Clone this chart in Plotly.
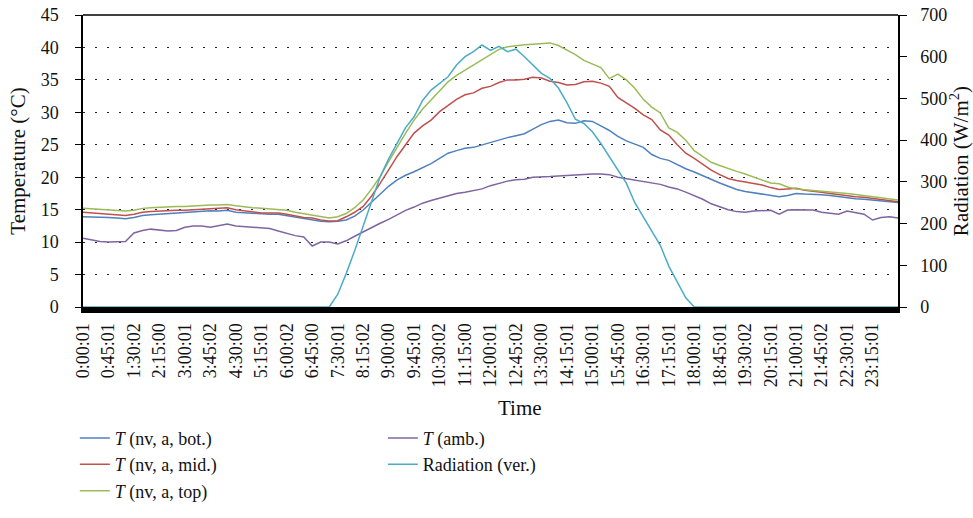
import plotly.graph_objects as go

# ---------------- data ----------------
tick_labels = ["0:00:01", "0:45:01", "1:30:02", "2:15:00", "3:00:01", "3:45:02", "4:30:00",
               "5:15:01", "6:00:02", "6:45:00", "7:30:01", "8:15:02", "9:00:00", "9:45:01",
               "10:30:02", "11:15:00", "12:00:01", "12:45:02", "13:30:00", "14:15:01",
               "15:00:01", "15:45:00", "16:30:01", "17:15:01", "18:00:01", "18:45:01",
               "19:30:02", "20:15:01", "21:00:01", "21:45:02", "22:30:01", "23:15:01"]

# sample times in hours (every 15 minutes)
time_h = [i * 0.25 for i in range(97)]

t_bot = [13.9, 13.9, 13.8, 13.8, 13.7, 13.6, 13.8, 14.1, 14.2, 14.3, 14.4, 14.5, 14.5, 14.6, 14.7, 14.85,
         14.8, 14.9, 14.6, 14.5, 14.4, 14.3, 14.3, 14.3, 14.1, 13.8, 13.6, 13.4, 13.2, 13.15, 13.2, 13.4,
         14.0, 14.95, 16.2, 17.5, 18.6, 19.6, 20.3, 20.85, 21.5, 22.1, 22.9, 23.7, 24.1, 24.45, 24.6, 25.0,
         25.4, 25.8, 26.1, 26.4, 26.7, 27.4, 28.1, 28.6, 28.8, 28.4, 28.3, 28.7, 28.6, 27.9, 27.2, 26.3,
         25.6, 25.1, 24.6, 23.5, 22.9, 22.6, 21.9, 21.3, 20.8, 20.2, 19.6, 19.1, 18.6, 18.1, 17.8, 17.6,
         17.5, 17.2, 17.0, 17.2, 17.5, 17.4, 17.4, 17.3, 17.2, 17.0, 16.9, 16.7, 16.6, 16.5, 16.3, 16.2,
         16.1]

t_mid = [14.6, 14.5, 14.4, 14.4, 14.2, 14.1, 14.3, 14.6, 14.7, 14.8, 14.8, 14.9, 14.9, 15.0, 15.1, 15.2,
         15.2, 15.3, 15.0, 14.8, 14.6, 14.5, 14.5, 14.5, 14.3, 14.0, 13.8, 13.7, 13.4, 13.25, 13.3, 13.9,
         14.6, 15.5, 17.1, 19.05, 21.1, 23.2, 25.0, 26.8, 27.9, 28.8, 30.1, 31.1, 32.0, 32.7, 33.0, 33.7,
         34.0, 34.6, 35.0, 35.0, 35.1, 35.4, 35.3, 34.8, 34.6, 34.2, 34.3, 34.7, 34.8, 34.5, 34.0, 32.3,
         31.5, 30.6, 29.6, 28.9, 27.3, 26.5, 25.0, 23.7, 22.9, 22.0, 21.1, 20.4, 19.8, 19.5, 19.3, 19.0,
         18.8, 18.4, 18.1, 18.2, 18.3, 18.0, 17.9, 17.7, 17.5, 17.3, 17.2, 17.0, 16.9, 16.7, 16.5, 16.3,
         16.2]

t_top = [15.2, 15.1, 15.0, 14.9, 14.8, 14.8, 14.9, 15.2, 15.3, 15.4, 15.45, 15.5, 15.5, 15.6, 15.6, 15.7,
         15.7, 15.8, 15.6, 15.4, 15.3, 15.2, 15.1, 15.05, 14.9, 14.6, 14.4, 14.2, 13.9, 13.7, 13.9, 14.4,
         15.3, 16.5, 18.2, 20.1, 22.4, 24.7, 26.8, 28.8, 30.5, 31.9, 33.3, 34.7, 35.7, 36.5, 37.4, 38.2,
         39.0, 39.7, 40.1, 40.3, 40.4, 40.5, 40.6, 40.7, 40.3, 39.6, 38.9, 38.0, 37.5, 36.9, 35.2, 35.9,
         35.0, 33.7, 32.0, 30.8, 29.9, 27.6, 26.9, 25.7, 24.1, 23.2, 22.3, 21.8, 21.3, 20.9, 20.5, 20.0,
         19.5, 19.1, 19.0, 18.5, 18.2, 18.1, 18.0, 17.9, 17.8, 17.6, 17.5, 17.35, 17.2, 17.0, 16.9, 16.7,
         16.5]

t_amb = [10.6, 10.3, 10.1, 10.0, 10.05, 10.1, 11.4, 11.8, 12.0, 11.8, 11.7, 11.8, 12.3, 12.5, 12.5, 12.3,
         12.5, 12.8, 12.5, 12.4, 12.3, 12.2, 12.1, 11.7, 11.3, 11.0, 10.8, 9.4, 10.0, 10.0, 9.7, 10.2,
         10.9, 11.6, 12.2, 12.9, 13.5, 14.2, 14.9, 15.4, 16.0, 16.4, 16.75, 17.2, 17.5, 17.7, 17.9, 18.2,
         18.7, 19.1, 19.4, 19.6, 19.7, 20.0, 20.0, 20.1, 20.2, 20.3, 20.4, 20.5, 20.5, 20.5, 20.4, 20.0,
         19.8, 19.6, 19.3, 19.1, 18.9, 18.5, 18.2, 17.7, 17.2, 16.6, 15.9, 15.4, 15.0, 14.7, 14.6, 14.8,
         14.85, 14.9, 14.3, 14.95, 15.0, 15.0, 14.95, 14.6, 14.4, 14.3, 14.8, 14.6, 14.3, 13.4, 13.8, 13.9,
         13.7]

radiation = [0, 0, 0, 0, 0, 0, 0, 0, 0, 0, 0, 0, 0, 0, 0, 0,
             0, 0, 0, 0, 0, 0, 0, 0, 0, 0, 0, 0, 0, 0, 30, 80,
             135, 193, 250, 312, 355, 392, 430, 456, 495, 520, 535, 552, 580, 600, 612, 628,
             615, 625, 612, 618, 600, 580, 560, 548, 525, 490, 450, 440, 420, 392, 360, 330,
             297, 250, 215, 182, 148, 98, 60, 22, 0, 0, 0, 0, 0, 0, 0, 0,
             0, 0, 0, 0, 0, 0, 0, 0, 0, 0, 0, 0, 0, 0, 0, 0,
             0]


def label_to_hours(s):
    h, m, sec = (int(p) for p in s.split(":"))
    return h + m / 60 + sec / 3600


tick_vals = [label_to_hours(s) for s in tick_labels]

FONT = "Liberation Serif"
FS = 18
FT = 21

fig = go.Figure()

series = [
    ("<i>T</i> (nv, a, bot.)", t_bot, "#4F81BD", 1, "y"),
    ("<i>T</i> (nv, a, mid.)", t_mid, "#C0504D", 3, "y"),
    ("<i>T</i> (nv, a, top)", t_top, "#9BBB59", 5, "y"),
    ("<i>T</i> (amb.)", t_amb, "#8064A2", 2, "y"),
    ("Radiation (ver.)", radiation, "#4BACC6", 4, "y2"),
]
for name, vals, col, rank, ax in series:
    fig.add_trace(go.Scatter(x=time_h, y=vals, name=name, mode="lines",
                             line=dict(color=col, width=1.5), yaxis=ax, legendrank=rank))

fig.update_layout(
    width=973, height=518,
    margin=dict(l=83, r=75, t=15, b=211, autoexpand=False),
    paper_bgcolor="white", plot_bgcolor="white",
    font=dict(family=FONT, size=FS, color="#111"),
    showlegend=True,
    legend=dict(orientation="h", x=-0.01, xanchor="left", y=-0.386, yanchor="top",
                entrywidth=263, entrywidthmode="pixels", font=dict(family=FONT, size=FS),
                bgcolor="rgba(0,0,0,0)", tracegroupgap=0),
    xaxis=dict(range=[0, 24], tickmode="array", tickvals=tick_vals, ticktext=tick_labels,
               tickangle=-90, showgrid=False, zeroline=False, showline=True, linecolor="black",
               linewidth=6, ticks="", ticklabelstandoff=3, automargin=False,
               tickfont=dict(family=FONT, size=FS)),
    yaxis=dict(range=[0, 45], dtick=5, showgrid=True, gridcolor="#222", griddash="1.5px,10.5px",
               gridwidth=1, zeroline=False, showline=True, linecolor="black", linewidth=1.5,
               ticks="outside", ticklen=6, tickcolor="black", ticklabelstandoff=13,
               automargin=False,
               title=dict(text="Temperature (°C)", standoff=9, font=dict(family=FONT, size=FT))),
    yaxis2=dict(range=[0, 700], dtick=100, overlaying="y", side="right", showgrid=False,
                zeroline=False, showline=True, linecolor="black", linewidth=1.5,
                ticks="outside", ticklen=7, tickcolor="black", ticklabelstandoff=10,
                automargin=False,
                title=dict(text="Radiation (W/m<sup>2</sup>)", standoff=7,
                           font=dict(family=FONT, size=FT))),
    shapes=[dict(type="line", xref="paper", yref="paper", x0=0, x1=1, y0=1, y1=1,
                 line=dict(color="black", width=1.5))],
    annotations=[dict(text="Time", xref="paper", yref="paper", x=0.536, y=-0.346,
                      xanchor="center", yanchor="middle", showarrow=False,
                      font=dict(family=FONT, size=FT))],
)

fig.write_html("out.html")
